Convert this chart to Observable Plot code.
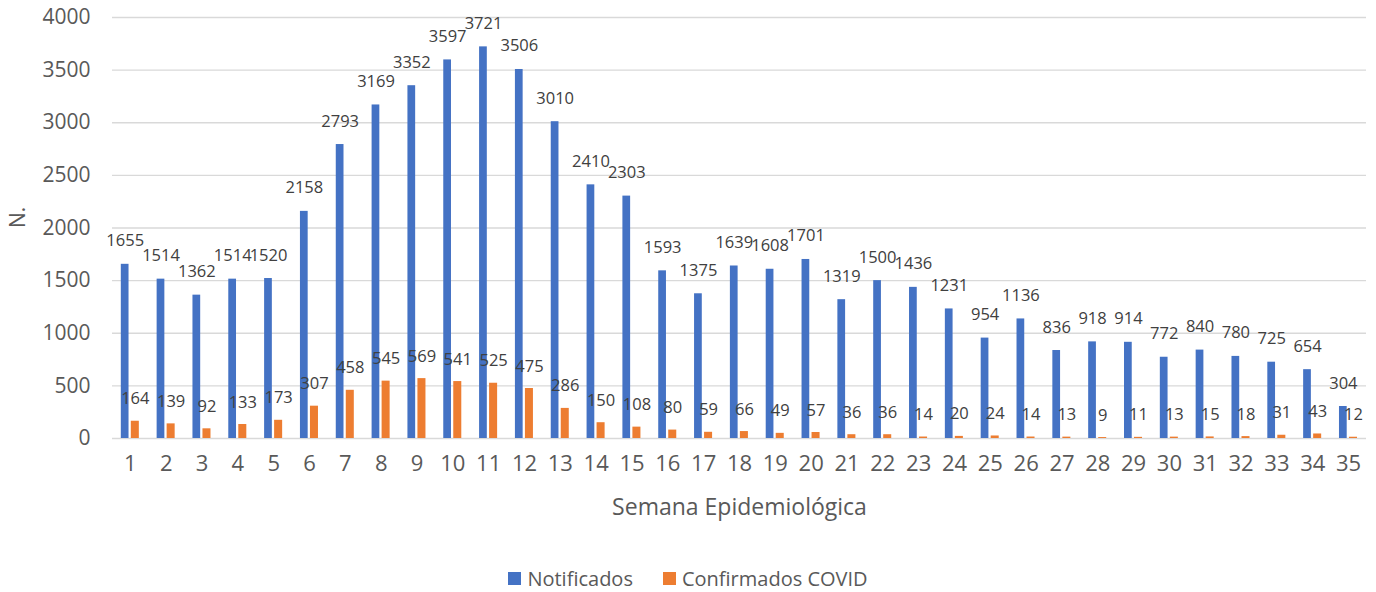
<!DOCTYPE html>
<html>
<head>
<meta charset="utf-8">
<script src="https://cdn.jsdelivr.net/npm/d3@7"></script>
<script src="https://cdn.jsdelivr.net/npm/@observablehq/plot@0.6"></script>
<style>
  html, body { margin: 0; padding: 0; background: #fff; }
  #chart { width: 1376px; }
  .legend { display: flex; justify-content: center; align-items: center; height: 52px; padding-top: 25px; box-sizing: border-box;
    font-family: "Open Sans", sans-serif; font-size: 20px; color: #595959; }
  .legend .item { display: flex; align-items: center; margin: 0 15px; }
  .legend .sw { width: 13px; height: 13px; margin-right: 6px; display: inline-block; }
</style>
</head>
<body>
<div id="chart"></div>
<script>
const weeks = [1,2,3,4,5,6,7,8,9,10,11,12,13,14,15,16,17,18,19,20,21,22,23,24,25,26,27,28,29,30,31,32,33,34,35];
const notificados = [1655,1514,1362,1514,1520,2158,2793,3169,3352,3597,3721,3506,3010,2410,2303,1593,1375,1639,1608,1701,1319,1500,1436,1231,954,1136,836,918,914,772,840,780,725,654,304];
const confirmados = [164,139,92,133,173,307,458,545,569,541,525,475,286,150,108,80,59,66,49,57,36,36,14,20,24,14,13,9,11,13,15,18,31,43,12];
const seriesNames = ["Notificados", "Confirmados COVID"];
const seriesColors = ["#4472C4", "#ED7D31"];
const yTicks = [0,500,1000,1500,2000,2500,3000,3500,4000];

const notData = weeks.map((w, i) => ({week: w, value: notificados[i]}));
const confData = weeks.map((w, i) => ({week: w, value: confirmados[i]}));

const font = "Open Sans, sans-serif";

const chart = Plot.plot({
  width: 1376,
  height: 540,
  marginLeft: 112,
  marginRight: 10,
  marginTop: 17,
  marginBottom: 102,
  style: {fontFamily: font, background: "#fff", overflow: "visible"},
  x: {type: "band", domain: weeks, padding: 0, round: false, label: null},
  y: {domain: [0, 4000], label: null},
  marks: [
    Plot.ruleY(yTicks, {stroke: "#d9d9d9", strokeWidth: 1.4}),
    Plot.barY(notData, {x: "week", y: "value", fill: seriesColors[0], insetLeft: 8.8, insetRight: 19.3}),
    Plot.barY(confData, {x: "week", y: "value", fill: seriesColors[1], insetLeft: 18.8, insetRight: 9}),
    Plot.text(notData, {x: "week", y: "value", text: d => String(d.value), dx: -5.2, dy: -18, lineAnchor: "bottom", fill: "#404040", fontSize: 16.5}),
    Plot.text(confData, {x: "week", y: "value", text: d => String(d.value), dx: 4.9, dy: -17, lineAnchor: "bottom", fill: "#404040", fontSize: 16.5}),
    Plot.axisY(yTicks, {tickSize: 0, tickPadding: 22, fontSize: 21, color: "#595959", label: null, tickFormat: d => String(d)}),
    Plot.axisX({tickSize: 0, tickPadding: 17, fontSize: 22, color: "#595959", label: null}),
    Plot.text(["N."], {frameAnchor: "left", dx: -94, rotate: -90, fontSize: 21, fill: "#595959"}),
    Plot.text(["Semana Epidemiológica"], {frameAnchor: "bottom", dy: 76, fontSize: 23, fill: "#595959"})
  ]
});
document.getElementById("chart").appendChild(chart);

const legend = document.createElement("div");
legend.className = "legend";
seriesNames.forEach((name, i) => {
  const item = document.createElement("span");
  item.className = "item";
  const sw = document.createElement("span");
  sw.className = "sw";
  sw.style.background = seriesColors[i];
  item.appendChild(sw);
  item.appendChild(document.createTextNode(name));
  legend.appendChild(item);
});
document.getElementById("chart").appendChild(legend);
</script>
</body>
</html>
